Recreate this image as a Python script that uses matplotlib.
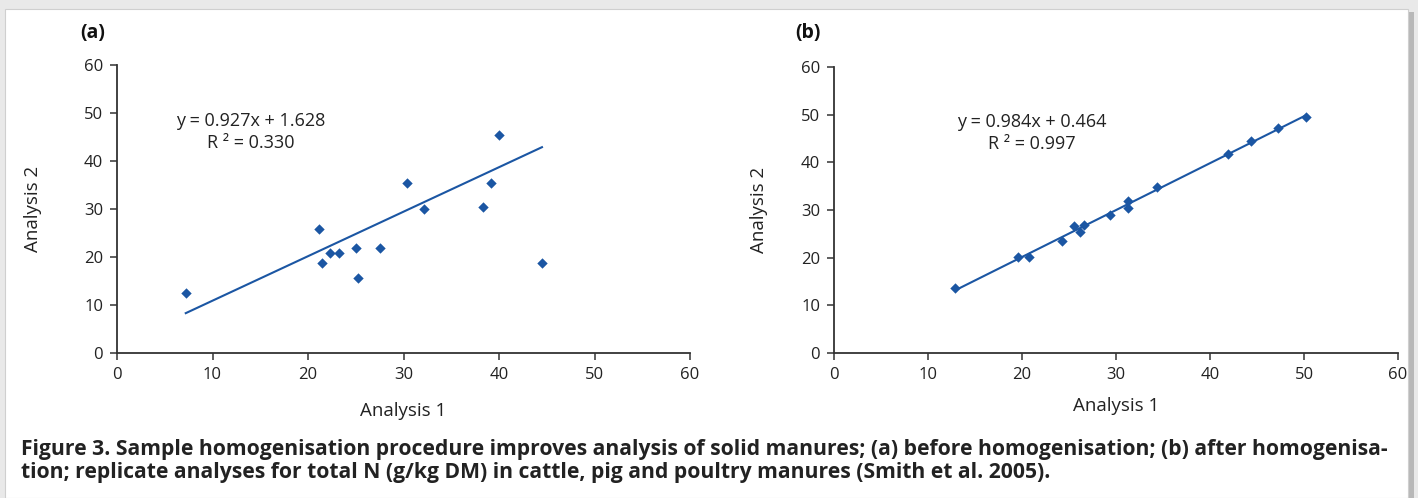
import matplotlib
matplotlib.use("Agg")
import matplotlib.pyplot as plt
from matplotlib.patches import Rectangle
import numpy as np

# ---- data ----
a_x = [7.2, 21.2, 21.5, 22.3, 23.2, 25.0, 25.2, 27.5, 30.4, 32.1, 38.3, 39.2, 40.0, 44.5]
a_y = [12.5, 25.8, 18.7, 20.8, 20.8, 21.8, 15.7, 21.8, 35.5, 29.9, 30.5, 35.4, 45.4, 18.7]
a_slope, a_int, a_r2 = 0.927, 1.628, 0.330

b_x = [12.9, 19.6, 20.7, 24.3, 25.5, 26.2, 26.6, 29.4, 31.3, 31.3, 34.4, 41.9, 44.4, 47.2, 50.2]
b_y = [13.6, 20.2, 20.2, 23.4, 26.7, 25.4, 26.8, 29.0, 31.8, 30.5, 34.9, 41.7, 44.4, 47.1, 49.6]
b_slope, b_int, b_r2 = 0.984, 0.464, 0.997

ticks = [0, 10, 20, 30, 40, 50, 60]
panel_labels = ["(a)", "(b)"]
xlabel = "Analysis 1"
ylabel = "Analysis 2"
caption = ("Figure 3. Sample homogenisation procedure improves analysis of solid manures; (a) before homogenisation; (b) after homogenisa-\n"
           "tion; replicate analyses for total N (g/kg DM) in cattle, pig and poultry manures (Smith et al. 2005).")

W, H = 1418, 498
fig = plt.figure(figsize=(W / 100, H / 100), dpi=100)
fig.patch.set_facecolor("#e9e9e9")
plt.rcParams['font.family'] = ['Open Sans', 'DejaVu Sans']

# white panel with shadow
fig.patches.append(Rectangle((8 / W, 0), (W - 12) / W, (H - 12) / H, transform=fig.transFigure,
                             facecolor="#b8b8b8", edgecolor="none", zorder=-20))
fig.patches.append(Rectangle((5 / W, 0), (W - 15) / W, (H - 9) / H, transform=fig.transFigure,
                             facecolor="white", edgecolor="#cfcfcf", lw=0.8, zorder=-10))

blue = "#1b56a3"
axcol = "#333333"


def make(ax, xs, ys, slope, inter, r2, eq_xy, xlabpad, ylabpad):
    ax.set_facecolor("none")
    ax.scatter(xs, ys, marker="D", s=28, color=blue, zorder=3, linewidths=0)
    xl = np.array([min(xs), max(xs)])
    ax.plot(xl, slope * xl + inter, color=blue, lw=1.5, zorder=2)
    ax.set_xlim(0, 60)
    ax.set_ylim(0, 60)
    ax.set_xticks(ticks)
    ax.set_yticks(ticks)
    for s in ["top", "right"]:
        ax.spines[s].set_visible(False)
    for s in ["left", "bottom"]:
        ax.spines[s].set_color(axcol)
        ax.spines[s].set_linewidth(1.3)
        ax.spines[s].set_clip_on(False)
    ax.tick_params(axis="both", direction="out", length=5, width=1.1, color=axcol,
                   labelsize=12, labelcolor="#222222", pad=5)
    ax.set_xlabel(xlabel, fontsize=13.5, color="#222222", labelpad=xlabpad)
    ax.set_ylabel(ylabel, fontsize=13.5, color="#222222", labelpad=ylabpad)
    ax.text(eq_xy[0], eq_xy[1], f"y = {slope:.3f}x + {inter:.3f}\nR ² = {r2:.3f}",
            ha="center", va="top", fontsize=13, color="#222222", linespacing=1.3)


ax1 = fig.add_axes([117 / W, (H - 353) / H, 573 / W, 288 / H])
make(ax1, a_x, a_y, a_slope, a_int, a_r2, (14, 50.3), 14, 30)
ax2 = fig.add_axes([834 / W, (H - 353) / H, 564 / W, 286 / H])
make(ax2, b_x, b_y, b_slope, b_int, b_r2, (21, 50.3), 10.5, 24)

fig.text(80 / W, 1 - 33 / H, panel_labels[0], fontsize=14, fontweight="bold", va="center", ha="left", color="#111111")
fig.text(795 / W, 1 - 33 / H, panel_labels[1], fontsize=14, fontweight="bold", va="center", ha="left", color="#111111")

fig.text(21 / W, 1 - 439 / H, caption, fontsize=15.2, fontweight="bold", va="top", ha="left",
         color="#222222", linespacing=1.12)

fig.savefig("out.png", dpi=100, facecolor=fig.get_facecolor())
